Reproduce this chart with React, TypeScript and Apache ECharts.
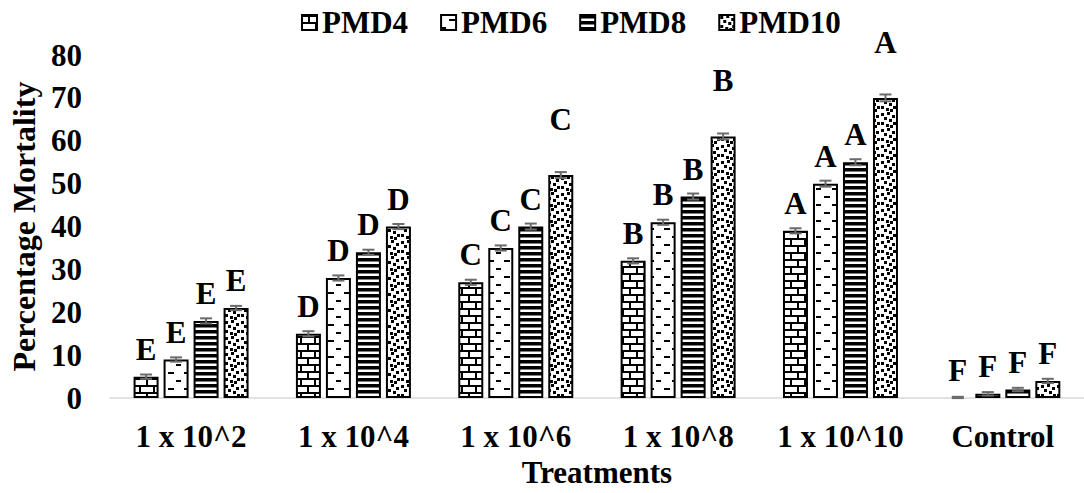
import React, { useEffect, useRef } from "react";
import * as echarts from "echarts";

const categories = ["1 x 10^2", "1 x 10^4", "1 x 10^6", "1 x 10^8", "1 x 10^10", "Control"];
const seriesNames = ["PMD4", "PMD6", "PMD8", "PMD10"];
const pmd4 = [5, 15, 27, 32, 39, 0];
const pmd6 = [9, 28, 35, 41, 50, 1];
const pmd8 = [18, 34, 40, 47, 55, 2];
const pmd10 = [21, 40, 52, 61, 70, 4];
const err4 = [0.5, 0.6, 0.6, 0.6, 0.6, 0.3];
const err6 = [0.5, 0.6, 0.6, 0.6, 0.7, 0.4];
const err8 = [0.6, 0.6, 0.7, 0.7, 0.7, 0.4];
const err10 = [0.5, 0.6, 0.7, 0.7, 0.8, 0.5];
const letters = ["E", "D", "C", "B", "A", "F"];

const FONT = "Liberation Serif, Times New Roman, serif";

function makePattern(kind: string) {
  const c = document.createElement("canvas");
  let w = 16, h = 16;
  if (kind === "brick") { w = 14; h = 14; }
  if (kind === "dash") { w = 16; h = 16; }
  if (kind === "stripe") { w = 6; h = 6; }
  if (kind === "confetti") { w = 16; h = 16; }
  c.width = w; c.height = h;
  const g = c.getContext("2d")!;
  g.fillStyle = "#fff";
  g.fillRect(0, 0, w, h);
  g.fillStyle = "#000";
  if (kind === "brick") {
    g.fillRect(0, 0, 14, 2);
    g.fillRect(0, 7, 14, 2);
    g.fillRect(6, 2, 2, 5);
    g.fillRect(13, 9, 1, 5);
    g.fillRect(0, 9, 1, 5);
  } else if (kind === "dash") {
    g.fillRect(8, 4, 6, 2);
    g.fillRect(0, 12, 5, 2);
  } else if (kind === "stripe") {
    g.fillRect(0, 0, 6, 3.5);
  } else if (kind === "confetti") {
    const sq = [[1, 1], [7, 0], [12, 3], [4, 5], [9, 7], [13, 10], [1, 10], [6, 12], [10, 13]];
    sq.forEach(([x, y]) => g.fillRect(x, y, 3, 3));
  }
  return { image: c, repeat: "repeat", imageWidth: w, imageHeight: h };
}

export default function App() {
  const ref = useRef<HTMLDivElement>(null);
  useEffect(() => {
    document.body.style.margin = "0";
    const chart = echarts.init(ref.current!, null, { renderer: "svg" });
    const values = [pmd4, pmd6, pmd8, pmd10];
    const errs = [err4, err6, err8, err10];
    const kinds = ["brick", "dash", "stripe", "confetti"];
    const textBase = { fontFamily: FONT, fontWeight: "bold", color: "#000", fontSize: 31 };

    const bars = values.map((vals, si) => ({
      type: "bar",
      name: seriesNames[si],
      barWidth: 25,
      barGap: "20%",
      itemStyle: { color: makePattern(kinds[si]), borderColor: "#000", borderWidth: 2 },
      label: {
        show: true,
        position: "top",
        distance: 12,
        formatter: (p: any) => letters[p.dataIndex],
        ...textBase,
      },
      data: vals.map((v, ci) => {
        const item: any = { value: v };
        if (v === 0) item.itemStyle = { borderWidth: 0 };
        if (si === 3 && ci >= 2 && ci <= 4) item.label = { distance: 40 };
        return item;
      }),
      z: 2,
    }));

    const errSeries = values.map((vals, si) => ({
      type: "custom",
      name: seriesNames[si] + "_err",
      z: 5,
      silent: true,
      data: vals.map((v, ci) => [ci, v, errs[si][ci]]),
      encode: { x: 0, y: 1 },
      renderItem: (params: any, api: any) => {
        const ci = api.value(0);
        const v = api.value(1);
        const e = api.value(2);
        const off = (si - 1.5) * 30;
        const hi = api.coord([ci, v + e]);
        const lo = api.coord([ci, Math.max(0, v - e)]);
        const x = hi[0] + off;
        const style = { stroke: "#6b6b6b", lineWidth: 2 };
        return {
          type: "group",
          children: [
            { type: "line", shape: { x1: x, y1: hi[1], x2: x, y2: lo[1] }, style },
            { type: "line", shape: { x1: x - 6, y1: hi[1], x2: x + 6, y2: hi[1] }, style },
            { type: "line", shape: { x1: x - 6, y1: lo[1], x2: x + 6, y2: lo[1] }, style },
          ],
        };
      },
    }));

    chart.setOption({
      animation: false,
      textStyle: { fontFamily: FONT },
      legend: {
        data: seriesNames,
        left: 296,
        top: 2,
        icon: "rect",
        itemWidth: 15,
        itemHeight: 15,
        itemGap: 32,
        textStyle: { ...textBase },
      },
      grid: { left: 107, right: -7, top: 55, bottom: 87 },
      xAxis: {
        type: "category",
        data: categories,
        axisLine: { lineStyle: { color: "#d9d9d9", width: 1.5 } },
        axisTick: { show: false },
        axisLabel: { ...textBase, margin: 23, interval: 0 },
        name: "Treatments",
        nameLocation: "middle",
        nameGap: 57,
        nameTextStyle: { ...textBase },
      },
      yAxis: {
        type: "value",
        min: 0,
        max: 80,
        interval: 10,
        splitLine: { show: false },
        axisLine: { show: false },
        axisTick: { show: false },
        axisLabel: { ...textBase, margin: 28 },
        name: "Percentage Mortality",
        nameLocation: "middle",
        nameGap: 68,
        nameRotate: 90,
        nameTextStyle: { ...textBase, fontSize: 32 },
      },
      series: [...bars, ...errSeries],
    } as any);
    return () => chart.dispose();
  }, []);
  return <div ref={ref} style={{ width: 1084, height: 493 }} />;
}
